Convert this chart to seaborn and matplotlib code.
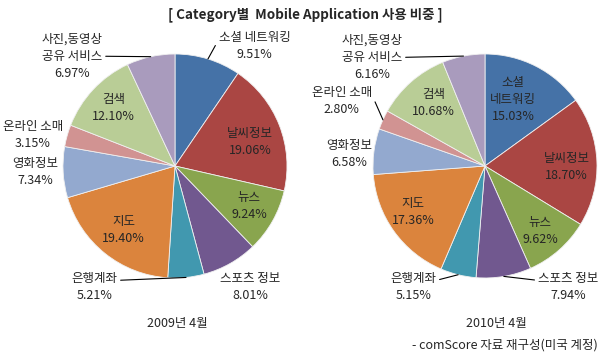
import matplotlib.pyplot as plt
import numpy as np
import seaborn as sns

sns.set_style('white')
plt.rcParams['font.family'] = ['Noto Sans CJK KR', 'DejaVu Sans']

# Data
categories = ['소셜 네트워킹', '날씨정보', '뉴스', '스포츠 정보', '은행계좌',
              '지도', '영화정보', '온라인 소매', '검색', '사진,동영상 공유 서비스']
share_2009 = [9.51, 19.06, 9.24, 8.01, 5.21, 19.40, 7.34, 3.15, 12.10, 6.97]
share_2010 = [15.03, 18.70, 9.62, 7.94, 5.15, 17.36, 6.58, 2.80, 10.68, 6.16]
period_labels = ['2009년 4월', '2010년 4월']

colors = sns.color_palette(['#4572A7', '#AA4643', '#89A54E', '#71588F', '#4198AF',
                            '#DB843D', '#93A9CF', '#D19392', '#B9CD96', '#A99BBD'])

# label display (line breaks) per pie
wrap_left = {'사진,동영상 공유 서비스': '사진,동영상\n공유 서비스'}
wrap_right = {'사진,동영상 공유 서비스': '사진,동영상\n공유 서비스',
              '소셜 네트워킹': '소셜\n네트워킹'}

# label positions in radius units, and leader anchor (relpos) or None
pos_left = [(0.71, 1.07), (0.67, 0.21), (0.66, -0.36), (0.67, -1.08), (-0.72, -1.08),
            (-0.46, -0.57), (-1.25, -0.05), (-1.27, 0.28), (-0.55, 0.52), (-0.92, 0.98)]
lead_left = {0: (0.0, 0.72), 4: (1.0, 0.72), 9: (1.0, 0.5)}
pos_right = [(0.25, 0.59), (0.73, -0.01), (0.49, -0.58), (0.74, -1.08), (-0.64, -1.08),
             (-0.64, -0.41), (-1.21, 0.11), (-1.28, 0.58), (-0.46, 0.56), (-1.01, 0.97)]
lead_right = {3: (0.0, 0.72), 4: (1.0, 0.72), 7: (1.0, 0.72), 9: (1.0, 0.5)}

W, H = 600, 359
R = 112
FS = 9
fig = plt.figure(figsize=(6, 3.59), dpi=100)


def draw_pie(cx, cy, values, positions, leaders, wrap):
    span = 1.45
    ax = fig.add_axes([(cx - span * R) / W, (H - cy - span * R) / H,
                       2 * span * R / W, 2 * span * R / H])
    wedges, _ = ax.pie(values, colors=colors, startangle=90, counterclock=False,
                       radius=1, wedgeprops=dict(edgecolor='#f0f0f0', linewidth=0.6))
    ax.set_xlim(-span, span)
    ax.set_ylim(-span, span)
    ax.axis('off')
    for i, w in enumerate(wedges):
        txt = wrap.get(categories[i], categories[i]) + '\n' + f'{values[i]:.2f}%'
        x, y = positions[i]
        if i in leaders:
            mid = np.deg2rad((w.theta1 + w.theta2) / 2)
            ax.annotate(txt, xy=(np.cos(mid), np.sin(mid)), xytext=(x, y),
                        ha='center', va='center', fontsize=FS, linespacing=1.4,
                        annotation_clip=False,
                        arrowprops=dict(arrowstyle='-', color='black', lw=0.8,
                                        relpos=leaders[i], shrinkA=0, shrinkB=0))
        else:
            ax.text(x, y, txt, ha='center', va='center', fontsize=FS,
                    linespacing=1.4, clip_on=False)
    return ax


draw_pie(175, 166, share_2009, pos_left, lead_left, wrap_left)
draw_pie(485, 166, share_2010, pos_right, lead_right, wrap_right)

fig.text(305 / W, 1 - 15 / H, '[ Category별  Mobile Application 사용 비중 ]',
         ha='center', va='center', fontsize=9.7, fontweight='bold')
fig.text(177 / W, 1 - 323 / H, period_labels[0], ha='center', va='center', fontsize=FS)
fig.text(496 / W, 1 - 323 / H, period_labels[1], ha='center', va='center', fontsize=FS)
fig.text(598 / W, 1 - 345 / H, '- comScore 자료 재구성(미국 계정)',
         ha='right', va='center', fontsize=FS)

plt.savefig('out.png', dpi=100)
plt.close()
